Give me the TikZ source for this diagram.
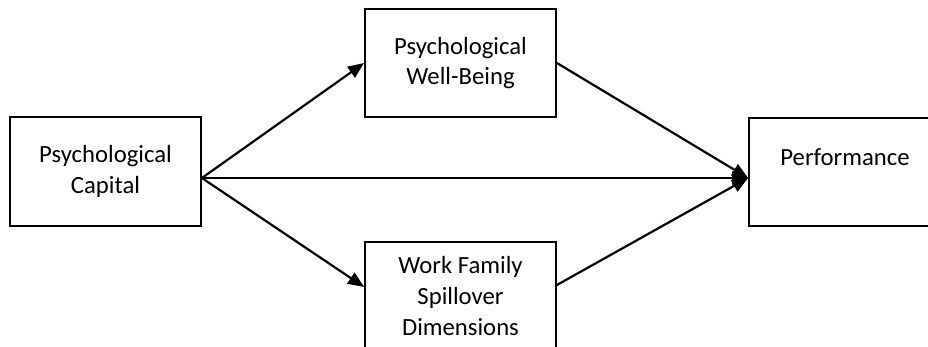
\documentclass[tikz,border=0pt]{standalone}
\usepackage{fontspec}
\setmainfont{Carlito}
\usetikzlibrary{arrows.meta}
\begin{document}
\begin{tikzpicture}[x=1pt,y=-1pt,
  box/.style={draw, line width=1.8pt, minimum width=191pt, minimum height=108pt, inner sep=0pt, align=center,
    font=\fontsize{24.7}{30.6}\selectfont},
  link/.style={line width=2.2pt, -{Triangle[length=16pt,width=13pt]}}]
\useasboundingbox (0,0) rectangle (928,347);
\node[box, minimum height=109pt] (cap) at (105.5,171.5) {Psychological\\Capital};
\node[box] (wb) at (460.5,63) {Psychological\\Well-Being};
\node[box] (wf) at (460.5,296) {Work Family\\Spillover\\Dimensions};
\node[box, minimum width=192pt] (perf) at (845,172) {Performance\\\mbox{}};
\coordinate (out) at ([yshift=-6.5pt]cap.east);
\coordinate (in) at ([yshift=-6pt]perf.west);
\draw[link] (out) -- (wb.west);
\draw[link] (out) -- ([yshift=9pt]wf.west);
\draw[link] (out) -- (in);
\draw[link] (wb.east) -- (in);
\draw[link] ([yshift=11pt]wf.east) -- (in);
\end{tikzpicture}
\end{document}
